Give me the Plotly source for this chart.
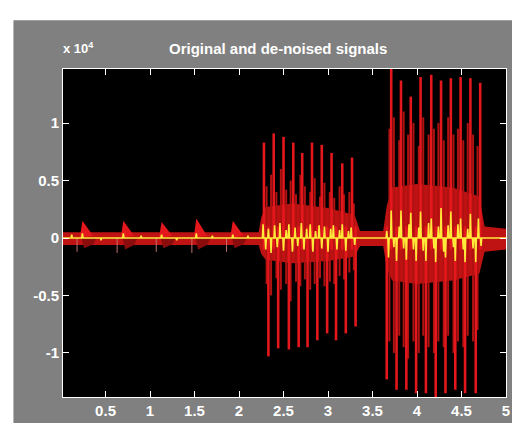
import plotly.graph_objects as go

# Time in seconds, amplitude in units of 10^4
# ---------- original signal (red) ----------
# noise floor envelope
noise_t  = [0.02, 2.22, 2.25, 2.30, 2.60, 3.00, 3.30, 3.36, 3.62, 3.66, 3.72, 4.00, 4.40, 4.70, 4.76, 5.00]
noise_hi = [0.05, 0.05, 0.18, 0.27, 0.30, 0.26, 0.20, 0.06, 0.06, 0.28, 0.44, 0.47, 0.44, 0.36, 0.10, 0.08]
noise_lo = [-0.06, -0.06, -0.14, -0.19, -0.22, -0.20, -0.16, -0.07, -0.07, -0.26, -0.37, -0.40, -0.37, -0.31, -0.12, -0.10]

# quiet-section bumps
bump_t    = [0.24, 0.70, 1.13, 1.52, 1.93]
bump_peak = [0.15, 0.15, 0.14, 0.17, 0.15]
bump_low  = [-0.09, -0.10, -0.09, -0.10, -0.09]
dip_t     = [0.18, 0.63, 1.07, 1.47, 1.86]
dip_v     = [-0.12, -0.13, -0.12, -0.13, -0.12]

# main spikes, burst 1 and 2
up_t = [2.28, 2.39, 2.50, 2.61, 2.71, 2.82, 2.93, 3.04, 3.16, 3.27,
        3.71, 3.82, 3.93, 4.04, 4.16, 4.27, 4.38, 4.49, 4.60, 4.71]
up_v = [0.83, 0.91, 0.88, 0.83, 0.74, 0.83, 0.81, 0.74, 0.65, 0.70,
        1.55, 1.37, 1.23, 1.40, 1.42, 1.37, 1.39, 1.40, 1.39, 1.35]
dn_t = [2.33, 2.44, 2.56, 2.67, 2.77, 2.88, 2.99, 3.09, 3.20, 3.31,
        3.66, 3.77, 3.88, 3.99, 4.10, 4.21, 4.32, 4.43, 4.54, 4.66]
dn_v = [-1.03, -0.96, -0.97, -0.95, -0.95, -0.89, -0.83, -0.89, -0.83, -0.77,
        -1.23, -1.32, -1.32, -1.35, -1.35, -1.45, -1.35, -1.32, -1.35, -1.35]

# secondary spikes
sec_t  = [2.31, 2.36, 2.42, 2.47, 2.53, 2.58, 2.64, 2.69, 2.74, 2.80, 2.85, 2.91, 2.96, 3.02, 3.07, 3.13, 3.18, 3.24, 3.29,
          3.69, 3.74, 3.80, 3.85, 3.90, 3.96, 4.02, 4.07, 4.13, 4.19, 4.24, 4.30, 4.35, 4.41, 4.46, 4.52, 4.57, 4.63, 4.68]
sec_hi = [0.45, 0.55, 0.40, 0.60, 0.42, 0.50, 0.38, 0.55, 0.45, 0.40, 0.52, 0.36, 0.48, 0.40, 0.35, 0.45, 0.38, 0.40, 0.30,
          0.95, 1.05, 0.85, 1.10, 0.90, 1.00, 0.80, 1.05, 0.90, 0.95, 1.00, 0.85, 1.05, 0.90, 0.95, 0.85, 1.00, 0.90, 0.80]
sec_lo = [-0.40, -0.50, -0.35, -0.45, -0.40, -0.55, -0.38, -0.42, -0.36, -0.45, -0.40, -0.35, -0.42, -0.38, -0.40, -0.33, -0.36, -0.30, -0.28,
          -0.90, -1.00, -0.85, -0.95, -1.05, -0.90, -1.00, -0.85, -0.95, -1.00, -0.90, -0.95, -0.85, -1.00, -0.90, -0.95, -0.85, -0.90, -0.80]

# ---------- de-noised signal (yellow) ----------
yel_t = [0.12, 0.24, 0.45, 0.70, 0.90, 1.13, 1.30, 1.52, 1.70, 1.93, 2.10,
         2.27, 2.30, 2.33, 2.36, 2.40, 2.43, 2.46, 2.50, 2.53, 2.56, 2.60, 2.63, 2.66, 2.70, 2.73, 2.76,
         2.80, 2.83, 2.86, 2.90, 2.93, 2.96, 3.00, 3.03, 3.06, 3.10, 3.13, 3.16, 3.20, 3.23, 3.26, 3.30,
         3.66, 3.68, 3.71, 3.74, 3.77, 3.80, 3.82, 3.85, 3.88, 3.91, 3.93, 3.96, 3.99, 4.02, 4.04, 4.07,
         4.10, 4.13, 4.16, 4.19, 4.21, 4.24, 4.27, 4.30, 4.32, 4.35, 4.38, 4.41, 4.43, 4.46, 4.49, 4.52,
         4.54, 4.57, 4.60, 4.63, 4.66, 4.69, 4.72]
yel_v = [0.03, 0.04, -0.02, 0.04, 0.02, 0.03, -0.02, 0.04, 0.02, 0.03, 0.02,
         0.12, -0.10, 0.08, -0.13, 0.11, -0.08, 0.13, -0.11, 0.07, 0.12, -0.12, 0.09, -0.07, 0.13, -0.10, 0.08,
         0.12, -0.12, 0.06, 0.11, -0.09, 0.10, -0.12, 0.08, 0.11, -0.10, 0.07, 0.12, -0.11, 0.06, 0.09, -0.06,
         0.06, -0.17, 0.24, -0.08, -0.20, 0.10, 0.24, -0.09, -0.19, 0.12, 0.22, -0.10, -0.20, 0.09, 0.23, -0.11,
         -0.20, 0.13, 0.17, -0.09, -0.21, 0.10, 0.26, -0.12, -0.17, 0.11, 0.23, -0.08, -0.20, 0.12, 0.17, -0.10,
         -0.21, 0.08, 0.21, -0.09, -0.21, 0.17, -0.07]

x_ticks = [0.5, 1, 1.5, 2, 2.5, 3, 3.5, 4, 4.5, 5]
x_labels = ["0.5", "1", "1.5", "2", "2.5", "3", "3.5", "4", "4.5", "5"]
y_ticks = [-1, -0.5, 0, 0.5, 1]
y_labels = ["-1", "-0.5", "0", "0.5", "1"]

X_RANGE = [0.022, 5.0]
Y_RANGE = [-1.383, 1.470]

FONT = "Liberation Sans, Arial, sans-serif"
RED = "#e3171c"
RED2 = "#b01212"

fig = go.Figure()

# noise band
fig.add_trace(go.Scatter(
    x=noise_t + noise_t[::-1], y=noise_hi + noise_lo[::-1],
    fill="toself", fillcolor="#bf1212", line=dict(width=0), mode="lines",
    hoverinfo="skip", showlegend=False))

# bumps in quiet section
bx, by, lx, ly = [], [], [], []
for t, p, lo in zip(bump_t, bump_peak, bump_low):
    bx += [t - 0.03, t, t + 0.12, t - 0.03, None]
    by += [0.0, p, 0.02, 0.0, None]
    lx += [t - 0.01, t + 0.16, t + 0.12, t + 0.02, t - 0.01, None]
    ly += [0.0, 0.0, lo * 0.6, lo, 0.0, None]
fig.add_trace(go.Scatter(x=lx, y=ly, fill="toself", fillcolor="#8a0c0c",
                         line=dict(width=0), mode="lines", showlegend=False, hoverinfo="skip"))
fig.add_trace(go.Scatter(x=bx, y=by, fill="toself", fillcolor=RED,
                         line=dict(width=0), mode="lines", showlegend=False, hoverinfo="skip"))
dx, dy = [], []
for t, v in zip(dip_t, dip_v):
    dx += [t, t, None]
    dy += [0.0, v, None]
fig.add_trace(go.Scatter(x=dx, y=dy, mode="lines", line=dict(color="#c07070", width=1),
                         showlegend=False, hoverinfo="skip"))

# secondary spikes
sx, sy = [], []
for t, h, l in zip(sec_t, sec_hi, sec_lo):
    sx += [t, t, None]
    sy += [l, h, None]
fig.add_trace(go.Scatter(x=sx, y=sy, mode="lines", line=dict(color=RED2, width=2),
                         showlegend=False, hoverinfo="skip"))

# main spikes
mx, my = [], []
for t, v in zip(up_t, up_v):
    mx += [t, t, None]
    my += [-0.1, v, None]
for t, v in zip(dn_t, dn_v):
    mx += [t, t, None]
    my += [0.1, v, None]
fig.add_trace(go.Scatter(x=mx, y=my, mode="lines", line=dict(color=RED, width=2.6),
                         showlegend=False, hoverinfo="skip"))

# de-noised signal
yx, yy = [X_RANGE[0]], [0.0]
d = 0.007
for t, v in zip(yel_t, yel_v):
    yx += [t - d, t, t + d]
    yy += [0.0, v, 0.0]
yx.append(X_RANGE[1])
yy.append(0.0)
fig.add_trace(go.Scatter(x=yx, y=yy, mode="lines", line=dict(color="#ffea3a", width=1.6),
                         showlegend=False, hoverinfo="skip"))

axis_common = dict(
    showgrid=False, zeroline=False, showline=True, linecolor="white", linewidth=1,
    mirror="ticks", ticks="inside", ticklen=6, tickcolor="white", tickwidth=1,
    ticklabeloverflow="allow",
    tickfont=dict(family=FONT, size=15, color="white", weight="bold"),
)
fig.update_xaxes(range=X_RANGE, tickvals=x_ticks, ticktext=x_labels, **axis_common)
fig.update_yaxes(range=Y_RANGE, tickvals=y_ticks, ticktext=y_labels, **axis_common)

fig.update_layout(
    width=512, height=423, autosize=False,
    margin=dict(l=63, r=2, t=69, b=26),
    paper_bgcolor="#808080", plot_bgcolor="black",
    showlegend=False,
    shapes=[
        dict(type="rect", xref="paper", yref="paper", x0=-0.2, x1=1.1, y0=1.149, y1=1.3,
             fillcolor="white", line=dict(width=0)),
        dict(type="rect", xref="paper", yref="paper", x0=-0.2, x1=-0.1119, y0=-0.2, y1=1.3,
             fillcolor="white", line=dict(width=0)),
    ],
    annotations=[
        dict(text="Original and de-noised signals", xref="paper", yref="paper",
             x=0.485, y=1.064, xanchor="center", yanchor="middle", showarrow=False,
             font=dict(family=FONT, size=15, color="white", weight="bold")),
        dict(text="x 10<sup>4</sup>", xref="paper", yref="paper",
             x=-0.005, y=1.064, xanchor="left", yanchor="middle", showarrow=False,
             font=dict(family=FONT, size=13, color="white", weight="bold")),
    ],
)

fig.write_html(
    "out.html",
    config={"responsive": False, "displayModeBar": False},
    post_script="document.body.style.margin='0';document.body.style.overflow='hidden';"
                "Plotly.relayout(document.getElementById('{plot_id}'),{width:512,height:423});",
)
